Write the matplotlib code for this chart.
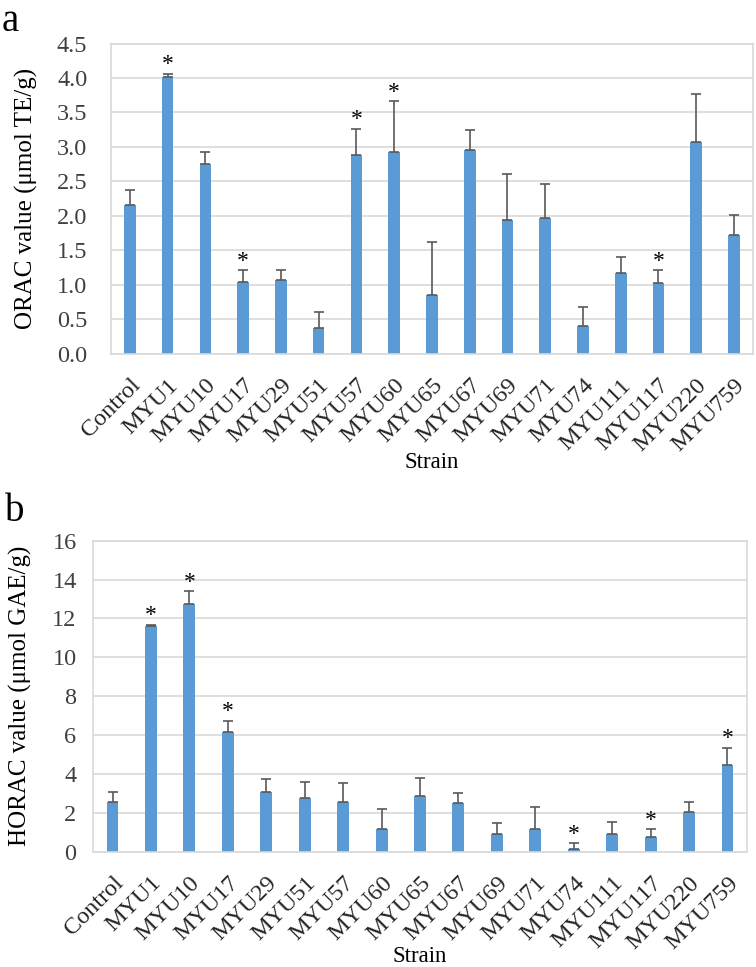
import matplotlib
matplotlib.use("Agg")
import matplotlib.pyplot as plt
import numpy as np

plt.rcParams['font.family'] = ['Liberation Serif', 'DejaVu Serif']

strains = ["Control", "MYU1", "MYU10", "MYU17", "MYU29", "MYU51", "MYU57", "MYU60",
           "MYU65", "MYU67", "MYU69", "MYU71", "MYU74", "MYU111", "MYU117", "MYU220", "MYU759"]

orac_mean = [2.16, 4.02, 2.75, 1.04, 1.07, 0.37, 2.88, 2.93, 0.85, 2.96, 1.94, 1.97, 0.41, 1.17, 1.03, 3.07, 1.72]
orac_err = [0.21, 0.04, 0.18, 0.17, 0.14, 0.24, 0.38, 0.73, 0.77, 0.28, 0.67, 0.49, 0.27, 0.23, 0.18, 0.70, 0.30]
orac_sig = ["MYU1", "MYU17", "MYU57", "MYU60", "MYU117"]

horac_mean = [2.57, 11.6, 12.75, 6.15, 3.05, 2.76, 2.57, 1.16, 2.84, 2.50, 0.89, 1.18, 0.14, 0.89, 0.77, 2.04, 4.47]
horac_err = [0.51, 0.07, 0.65, 0.58, 0.67, 0.82, 0.96, 1.03, 0.94, 0.50, 0.60, 1.10, 0.29, 0.65, 0.38, 0.49, 0.86]
horac_sig = ["MYU1", "MYU10", "MYU17", "MYU74", "MYU117", "MYU759"]

bar_color = "#5B9BD5"
grid_color = "#D9D9D9"
err_color = "#595959"
text_color = "#262626"

fig = plt.figure(figsize=(7.56, 9.67), dpi=100)

def panel(rect, means, errs, sig, ylim, yticks, fmt, ylabel, letter, letter_pos,
          ypad, ylab_x, xlab_y):
    ax = fig.add_axes(rect)
    x = np.arange(len(strains))
    ax.bar(x, means, width=0.31, color=bar_color, zorder=2)
    ax.errorbar(x, means, yerr=[np.zeros(len(errs)), errs], fmt='none',
                ecolor=err_color, elinewidth=1.2, capsize=3.5, capthick=1.2, zorder=3)
    for i, s in enumerate(strains):
        if s in sig:
            ax.annotate("*", (x[i], means[i] + errs[i]), xytext=(0, -1),
                        textcoords="offset points", ha="center", va="bottom",
                        fontsize=17, color="black")
    ax.set_xlim(-0.5, len(strains) - 0.5)
    ax.set_ylim(*ylim)
    ax.set_yticks(yticks)
    ax.set_yticklabels([fmt.format(t) for t in yticks], fontsize=17.5, color="#404040")
    ax.set_xticks(x)
    ax.set_xticklabels(strains, rotation=45, ha="right", rotation_mode="anchor",
                       fontsize=17.5, color=text_color)
    ax.tick_params(axis="both", length=0)
    ax.tick_params(axis="y", pad=ypad)
    ax.tick_params(axis="x", pad=15)
    ax.yaxis.grid(True, color=grid_color, linewidth=1.2, zorder=0)
    ax.set_axisbelow(True)
    for sp in ax.spines.values():
        sp.set_color(grid_color)
        sp.set_linewidth(1.2)
    ax.set_ylabel(ylabel, fontsize=18, color="black")
    ax.yaxis.set_label_coords(ylab_x, 0.5)
    ax.set_xlabel("Strain", fontsize=16.5, color="black")
    ax.xaxis.set_label_coords(0.5, xlab_y)
    fig.text(letter_pos[0], letter_pos[1], letter, fontsize=28, ha="left", va="top")
    return ax

ax1 = panel([0.1468, 0.634, 0.849, 0.321], orac_mean, orac_err, orac_sig,
            (0, 4.5), np.arange(0, 4.51, 0.5), "{:.1f}",
            "ORAC value (\u03bcmol TE/g)", "a", (0.002, 0.997), 17, -0.114, -0.315)
ax2 = panel([0.1234, 0.1193, 0.8643, 0.3216], horac_mean, horac_err, horac_sig,
            (0, 16), np.arange(0, 17, 2), "{:.0f}",
            "HORAC value (\u03bcmol GAE/g)", "b", (0.006, 0.490), 12, -0.094, -0.302)

fig.savefig("out.png", dpi=100)
